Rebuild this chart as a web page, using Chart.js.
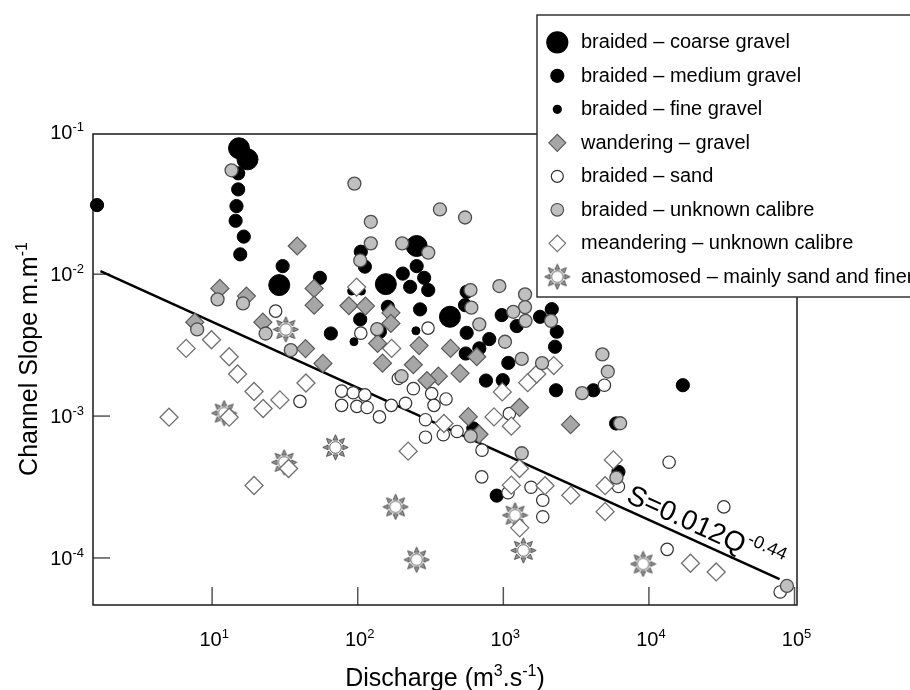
<!DOCTYPE html>
<html lang="en">
<head>
<meta charset="UTF-8">
<title>Channel Slope vs Discharge</title>
<script src="https://cdn.jsdelivr.net/npm/chart.js@4.4.1/dist/chart.umd.min.js"></script>
<style>
  html, body { margin: 0; padding: 0; background: #ffffff; }
  .chart-box { position: relative; width: 910px; height: 690px; }
</style>
</head>
<body>
<div class="chart-box"><canvas id="slopeChart"></canvas></div>
<script>
// [discharge Q (m3/s), channel slope S (m/m)]
const coarseGravel = [[15.3, 0.0772], [17.5, 0.0645], [28.9, 0.00838], [254, 0.0158], [156, 0.00851], [430, 0.00501]];

const mediumGravel = [
  [1.62, 0.0307], [15.1, 0.0514], [15.1, 0.0396], [14.7, 0.0302], [14.5, 0.0238], [16.5, 0.0184],
  [15.6, 0.0138], [30.5, 0.0114], [55.0, 0.00943], [65.4, 0.00382], [105, 0.0144], [112, 0.0113],
  [104, 0.0048], [204, 0.0101], [254, 0.0114], [286, 0.00943], [229, 0.00815], [305, 0.00773],
  [161, 0.00589], [142, 0.00393], [268, 0.00565], [560, 0.00751], [546, 0.00605], [560, 0.00386],
  [801, 0.00349], [684, 0.0030], [552, 0.00276], [975, 0.00515], [1236, 0.00431], [1082, 0.00237],
  [1787, 0.00501], [2151, 0.00567], [2328, 0.00393], [2266, 0.00308], [2302, 0.00152], [4155, 0.00152],
  [5953, 0.000887], [17100, 0.00165], [6172, 0.000404], [760, 0.00178], [991, 0.00179], [622, 0.000818],
  [901, 0.000275]
];

const fineGravel = [[90.8, 0.0076], [106, 0.0076], [94.2, 0.00334], [251, 0.00399]];

const wanderingGravel = [
  [38.4, 0.0158], [11.3, 0.00794], [17.2, 0.00701], [50.2, 0.00794], [50.2, 0.00605], [7.6, 0.00459],
  [22.3, 0.00459], [43.8, 0.00299], [57.7, 0.00235], [87.0, 0.00599], [113, 0.00596], [169, 0.00534],
  [169, 0.0045], [137, 0.00325], [264, 0.00314], [434, 0.0030], [657, 0.00262], [148, 0.00236],
  [241, 0.0023], [358, 0.00191], [504, 0.0020], [299, 0.00178], [575, 0.00099], [1292, 0.00115],
  [2897, 0.00087], [681, 0.000745]
];

const braidedSand = [
  [27.3, 0.00549], [304, 0.00417], [105, 0.00384], [40.1, 0.00127], [77.5, 0.0015], [93.1, 0.00146],
  [112, 0.00141], [77.5, 0.00119], [98.7, 0.00117], [116, 0.00115], [141, 0.000987], [170, 0.00119],
  [213, 0.00123], [190, 0.00184], [241, 0.00156], [322, 0.00144], [404, 0.00132], [334, 0.00119],
  [292, 0.000943], [292, 0.00071], [387, 0.000739], [481, 0.000779], [714, 0.000575], [711, 0.000373],
  [1100, 0.00104], [1077, 0.000288], [1550, 0.000315], [1866, 0.000255], [1866, 0.000195], [4945, 0.00165],
  [13760, 0.000473], [6172, 0.000319], [32700, 0.000229], [13340, 0.000115], [79700, 0.0000576]
];

const braidedUnknown = [
  [13.6, 0.054], [10.9, 0.00665], [16.3, 0.00622], [7.89, 0.00408], [23.3, 0.00382], [34.7, 0.00292],
  [94.9, 0.0435], [123, 0.0234], [367, 0.0286], [546, 0.0251], [123, 0.0165], [202, 0.0165],
  [305, 0.0142], [104, 0.0125], [595, 0.00773], [603, 0.00581], [939, 0.00825], [1410, 0.00721],
  [1410, 0.00586], [1421, 0.00469], [1171, 0.00543], [2127, 0.00469], [684, 0.00443], [1027, 0.00334],
  [1338, 0.00253], [1845, 0.00236], [136, 0.0041], [4790, 0.00272], [5220, 0.00206], [3475, 0.00145],
  [6340, 0.00089], [5980, 0.000368], [200, 0.00191], [597, 0.000722], [1338, 0.000547], [88700, 0.0000635]
];

const meandering = [
  [5.06, 0.000982], [6.63, 0.0030], [9.9, 0.00345], [13.1, 0.00262], [14.95, 0.00198], [19.4, 0.00149],
  [22.4, 0.00113], [29.2, 0.0013], [44.1, 0.00171], [13.1, 0.000982], [33.5, 0.000427], [19.4, 0.000324],
  [98.3, 0.00811], [171, 0.0030], [2220, 0.00227], [1471, 0.00172], [1697, 0.00198], [984, 0.00148],
  [863, 0.000987], [1135, 0.000849], [222, 0.000566], [391, 0.000887], [1292, 0.000427], [1135, 0.000326],
  [1935, 0.000323], [1296, 0.000163], [2906, 0.000277], [5702, 0.000491], [5000, 0.000323], [5000, 0.000212],
  [19290, 0.0000918], [28970, 0.0000797]
];

const anastomosed = [
  [32.1, 0.00408], [12.1, 0.00105], [31.2, 0.000472], [70.3, 0.000602], [182, 0.000229],
  [254, 0.0000971], [1203, 0.0002], [1372, 0.000113], [9123, 0.0000907]
];

// regression S = 0.012 Q^-0.44 as drawn (end points)
const fitLine = [[1.71, 0.0105], [78900, 0.0000708]];

const xTicks = [10, 100, 1000, 10000, 100000];
const xTickExp = ['1', '2', '3', '4', '5'];
const yTicks = [0.1, 0.01, 0.001, 0.0001];
const yTickExp = ['-1', '-2', '-3', '-4'];

const seriesNames = [
  'braided \u2013 coarse gravel', 'braided \u2013 medium gravel', 'braided \u2013 fine gravel',
  'wandering \u2013 gravel', 'braided \u2013 sand', 'braided \u2013 unknown calibre',
  'meandering \u2013 unknown calibre', 'anastomosed \u2013 mainly sand and finer'
];

const FONT = "'Liberation Sans', Arial, sans-serif";
const EQ_START_Q = 6550;

function toPts(arr) {
  return arr.map(p => ({ x: p[0], y: p[1] }));
}

// sun-like marker for the anastomosed channels
function makeSun(size) {
  const c = document.createElement('canvas');
  c.width = size; c.height = size;
  const g = c.getContext('2d');
  const m = size / 2;
  g.lineWidth = 0.8;
  g.strokeStyle = '#333';
  g.fillStyle = '#9a9a9a';
  for (let k = 0; k < 8; k++) {
    const a = k * Math.PI / 4;
    const ca = Math.cos(a), sa = Math.sin(a);
    const r0 = 7.4, r1 = m - 0.8, hw = 2.4;
    g.beginPath();
    g.moveTo(m + ca * r1, m + sa * r1);
    g.lineTo(m + ca * r0 - sa * hw, m + sa * r0 + ca * hw);
    g.lineTo(m + ca * r0 + sa * hw, m + sa * r0 - ca * hw);
    g.closePath();
    g.fill();
    g.stroke();
  }
  g.beginPath();
  g.arc(m, m, 5.8, 0, Math.PI * 2);
  g.fillStyle = '#fff';
  g.fill();
  g.strokeStyle = '#555';
  g.lineWidth = 1;
  g.stroke();
  return c;
}
const sunImg = makeSun(27);

// text with superscript parts: parts = [[text, isSup], ...]
function drawRich(ctx, parts, x, y, size, align) {
  const supSize = Math.round(size * 0.65);
  let w = 0;
  parts.forEach(p => {
    ctx.font = (p[1] ? supSize : size) + 'px ' + FONT;
    w += ctx.measureText(p[0]).width;
  });
  let cx = align === 'center' ? x - w / 2 : (align === 'right' ? x - w : x);
  ctx.textAlign = 'left';
  ctx.textBaseline = 'alphabetic';
  parts.forEach(p => {
    ctx.font = (p[1] ? supSize : size) + 'px ' + FONT;
    ctx.fillText(p[0], cx, p[1] ? y - size * 0.4 : y);
    cx += ctx.measureText(p[0]).width;
  });
}

const legendMarks = [
  { shape: 'circle', r: 10.5, fill: '#000', stroke: '#000' },
  { shape: 'circle', r: 6.5, fill: '#000', stroke: '#000' },
  { shape: 'circle', r: 4, fill: '#000', stroke: '#000' },
  { shape: 'diamond', r: 8.5, fill: '#a6a6a6', stroke: '#5a5a5a' },
  { shape: 'circle', r: 6, fill: '#fff', stroke: '#333' },
  { shape: 'circle', r: 6.3, fill: '#c0c0c0', stroke: '#4d4d4d' },
  { shape: 'diamond', r: 8.3, fill: '#fff', stroke: '#707070' },
  { shape: 'sun' }
];

const chartDecor = {
  id: 'chartDecor',
  beforeDatasetsDraw(chart) {
    const { ctx, chartArea: a, scales: { x, y } } = chart;
    ctx.save();
    ctx.strokeStyle = '#555';
    ctx.lineWidth = 1.5;
    xTicks.forEach(v => {
      const px = x.getPixelForValue(v);
      if (px <= a.left || px >= a.right) return;
      ctx.beginPath();
      ctx.moveTo(px, a.bottom);
      ctx.lineTo(px, a.bottom - 18);
      ctx.stroke();
    });
    yTicks.forEach(v => {
      const py = y.getPixelForValue(v);
      if (py <= a.top || py >= a.bottom) return;
      ctx.beginPath();
      ctx.moveTo(a.left, py);
      ctx.lineTo(a.left + 17, py);
      ctx.stroke();
    });
    ctx.strokeStyle = '#1a1a1a';
    ctx.lineWidth = 1.5;
    ctx.strokeRect(a.left, a.top, a.right - a.left, a.bottom - a.top);
    ctx.restore();
  },
  afterDraw(chart) {
    const { ctx, chartArea: a, scales: { x, y } } = chart;
    ctx.save();
    ctx.fillStyle = '#000';

    // tick labels
    xTicks.forEach((v, i) => {
      drawRich(ctx, [['10', false], [xTickExp[i], true]], x.getPixelForValue(v) + 2, a.bottom + 41, 20, 'center');
    });
    yTicks.forEach((v, i) => {
      drawRich(ctx, [['10', false], [yTickExp[i], true]], a.left - 9, y.getPixelForValue(v) + 7, 20, 'right');
    });

    // axis titles
    drawRich(ctx, [['Discharge (m', false], ['3', true], ['.s', false], ['-1', true], [')', false]],
      (a.left + a.right) / 2, 686, 25, 'center');
    ctx.save();
    ctx.translate(37, 359);
    ctx.rotate(-Math.PI / 2);
    drawRich(ctx, [['Channel Slope m.m', false], ['-1', true]], 0, 0, 25, 'center');
    ctx.restore();

    // equation along the fitted line
    const p0 = { x: x.getPixelForValue(fitLine[0][0]), y: y.getPixelForValue(fitLine[0][1]) };
    const p1 = { x: x.getPixelForValue(fitLine[1][0]), y: y.getPixelForValue(fitLine[1][1]) };
    const ang = Math.atan2(p1.y - p0.y, p1.x - p0.x);
    const ex = x.getPixelForValue(EQ_START_Q);
    const ey = p0.y + (ex - p0.x) / (p1.x - p0.x) * (p1.y - p0.y);
    const off = 7;
    ctx.save();
    ctx.translate(ex + Math.sin(ang) * off, ey - Math.cos(ang) * off);
    ctx.rotate(ang);
    ctx.textAlign = 'left';
    ctx.textBaseline = 'alphabetic';
    ctx.font = '28px ' + FONT;
    ctx.fillText('S=0.012Q', 0, 0);
    const w = ctx.measureText('S=0.012Q').width;
    ctx.font = '18px ' + FONT;
    ctx.fillText('-0.44', w + 1, -12);
    ctx.restore();

    // legend box
    const lx = 537, ly = 15, lh = 282;
    ctx.fillStyle = '#fff';
    ctx.fillRect(lx, ly, 400, lh);
    ctx.strokeStyle = '#333';
    ctx.lineWidth = 1.5;
    ctx.strokeRect(lx, ly, 400, lh);
    seriesNames.forEach((name, i) => {
      const cy = 42.3 + i * 33.5;
      const mx = 557.3;
      const m = legendMarks[i];
      if (m.shape === 'sun') {
        ctx.drawImage(sunImg, mx - sunImg.width / 2, cy - sunImg.height / 2);
      } else {
        ctx.beginPath();
        if (m.shape === 'circle') {
          ctx.arc(mx, cy, m.r, 0, Math.PI * 2);
        } else {
          ctx.moveTo(mx - m.r, cy);
          ctx.lineTo(mx, cy - m.r);
          ctx.lineTo(mx + m.r, cy);
          ctx.lineTo(mx, cy + m.r);
          ctx.closePath();
        }
        ctx.fillStyle = m.fill;
        ctx.fill();
        ctx.strokeStyle = m.stroke;
        ctx.lineWidth = 1.2;
        ctx.stroke();
      }
      ctx.fillStyle = '#000';
      ctx.font = '20px ' + FONT;
      ctx.textAlign = 'left';
      ctx.textBaseline = 'alphabetic';
      ctx.fillText(name, 581, cy + 6);
    });
    ctx.restore();
  }
};

const pointSet = (label, arr, order, style) => Object.assign({
  label: label,
  data: toPts(arr),
  order: order,
  clip: false,
  showLine: false
}, style);

const datasets = [
  pointSet(seriesNames[5], braidedUnknown, 1,
    { pointRadius: 6.5, pointBackgroundColor: '#c0c0c0', pointBorderColor: '#4d4d4d', pointBorderWidth: 1.3 }),
  pointSet(seriesNames[3], wanderingGravel, 2,
    { pointStyle: 'rectRot', pointRadius: 9, pointBackgroundColor: '#a6a6a6', pointBorderColor: '#5a5a5a', pointBorderWidth: 1.2 }),
  pointSet(seriesNames[6], meandering, 3,
    { pointStyle: 'rectRot', pointRadius: 9, pointBackgroundColor: '#ffffff', pointBorderColor: '#707070', pointBorderWidth: 1.3 }),
  pointSet(seriesNames[4], braidedSand, 4,
    { pointRadius: 6.2, pointBackgroundColor: '#ffffff', pointBorderColor: '#333333', pointBorderWidth: 1.2 }),
  pointSet(seriesNames[2], fineGravel, 5,
    { pointRadius: 4, pointBackgroundColor: '#000', pointBorderColor: '#000', pointBorderWidth: 1 }),
  pointSet(seriesNames[1], mediumGravel, 6,
    { pointRadius: 6.6, pointBackgroundColor: '#000', pointBorderColor: '#000', pointBorderWidth: 1 }),
  pointSet(seriesNames[0], coarseGravel, 7,
    { pointRadius: 10.5, pointBackgroundColor: '#000', pointBorderColor: '#000', pointBorderWidth: 1 }),
  pointSet(seriesNames[7], anastomosed, 8,
    { pointStyle: sunImg, pointRadius: 13 }),
  {
    label: 'S=0.012Q^-0.44',
    data: toPts(fitLine),
    order: 9,
    showLine: true,
    borderColor: '#000',
    borderWidth: 2.5,
    pointRadius: 0,
    clip: false
  }
];

new Chart(document.getElementById('slopeChart'), {
  type: 'scatter',
  data: { datasets: datasets },
  options: {
    responsive: true,
    maintainAspectRatio: false,
    animation: false,
    layout: { padding: { left: 93, top: 134, right: 113, bottom: 85 } },
    plugins: {
      legend: { display: false },
      tooltip: { enabled: false }
    },
    scales: {
      x: { type: 'logarithmic', min: 1.52, max: 104000, display: false },
      y: { type: 'logarithmic', min: 0.0000466, max: 0.0973, display: false }
    }
  },
  plugins: [chartDecor]
});
</script>
</body>
</html>
